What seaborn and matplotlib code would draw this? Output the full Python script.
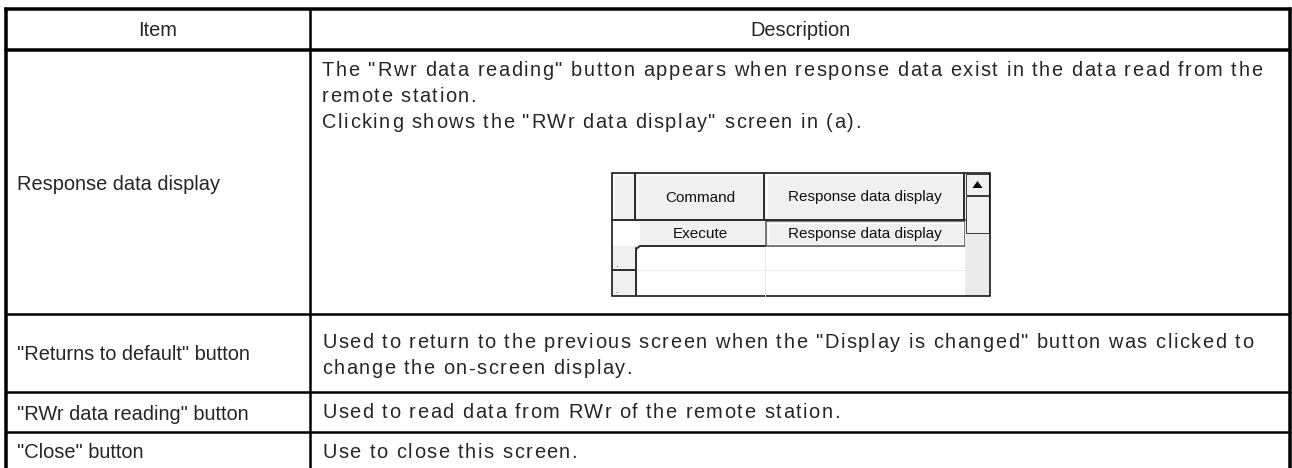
import numpy as np
import pandas as pd
import seaborn as sns
import matplotlib.pyplot as plt
from matplotlib.patches import Rectangle, Polygon

# Table content
header = ["Item", "Description"]
items = [
    'Response data display',
    '"Returns to default" button',
    '"RWr data reading" button',
    '"Close" button',
]
descriptions = [
    ['The "Rwr data reading" button appears when response data exist in the data read from the',
     'remote station.',
     'Clicking shows the "RWr data display" screen in (a).'],
    ['Used to return to the previous screen when the "Display is changed" button was clicked to',
     'change the on-screen display.'],
    ['Used to read data from RWr of the remote station.'],
    ['Use to close this screen.'],
]

# Small screenshot in the first row
grid_header = ['Command', 'Response data display']
grid_row = ['Execute', 'Response data display']

# Layout (pixels)
W, H = 1292, 468
LEFT, RIGHT, TOP = 6, 1290, 9
COL_X = 310
ROW_Y = [50, 314, 392, 432, H]
TEXT_X = [17, 322]
# description text sits on a character grid: extra space after each character
CHAR_PITCH_EXTRA = 1.55
# wrapped lines are spread out to these right edges
SPREAD_RIGHT = {(0, 0): 1262, (1, 0): 1253}
LINE_STEP = 26
FS = 14.4
GRID_FS = 11


def px(v):
    return v * 72 / 100


def measure(ax, renderer, s, **kw):
    t = ax.text(0, 0, s, **kw)
    w = t.get_window_extent(renderer).width
    t.remove()
    return w


def draw_line(ax, renderer, x0, y, s, right=None, extra=0.0, **kw):
    prefix = [0.0] + [measure(ax, renderer, s[:k].replace(' ', '\u00a0'), **kw)
                      for k in range(1, len(s) + 1)]
    delta = extra if right is None else (right - x0 - prefix[-1]) / (len(s) - 1)
    for k, ch in enumerate(s):
        if ch == ' ':
            continue
        ax.text(x0 + prefix[k] + k * delta, y, ch, ha='left', va='center', **kw)


def draw_grid_widget(ax):
    gx0, gx1, gy0, gy1 = 612, 990, 173, 296
    rh_x, split_x, sb_x = 636, 765, 965
    hdr_y, r1_y, r2_y = 220, 246, 270
    gray = '#f0f0f0'
    dark = '#303030'

    ax.add_patch(Rectangle((gx0, gy0), gx1 - gx0, gy1 - gy0, fc='white', ec='none'))
    # header cells
    ax.add_patch(Rectangle((gx0, gy0), sb_x - gx0, hdr_y - gy0, fc=gray, ec='none'))
    # row header cells
    ax.add_patch(Rectangle((gx0, r1_y), rh_x - gx0, gy1 - r1_y, fc=gray, ec='none'))
    # execute cell
    ax.add_patch(Rectangle((rh_x + 4, hdr_y + 1), split_x - rh_x - 4, r1_y - hdr_y - 1, fc=gray, ec='none'))
    # response button
    ax.add_patch(Rectangle((split_x + 1, hdr_y + 1), sb_x - split_x - 1, r1_y - hdr_y - 1,
                           fc=gray, ec='#505050', lw=px(1.5)))
    ax.add_patch(Rectangle((split_x + 3, hdr_y + 3), sb_x - split_x - 5, r1_y - hdr_y - 5,
                           fc='none', ec='#ffffff', lw=px(1)))

    # faint grid lines
    ax.plot([split_x, split_x], [r1_y, gy1], color='#e6e6e6', lw=px(1))
    ax.plot([rh_x, sb_x], [r2_y, r2_y], color='#ececec', lw=px(1))

    # header 3d edges
    for xa, xb in [(gx0, rh_x), (rh_x, split_x), (split_x, sb_x)]:
        ax.plot([xa + 2, xb - 2], [gy0 + 2, gy0 + 2], color='white', lw=px(1.5))
        ax.plot([xa + 2, xa + 2], [gy0 + 2, hdr_y - 2], color='white', lw=px(1.5))
        ax.plot([xb - 1, xb - 1], [gy0, hdr_y], color=dark, lw=px(2))
    ax.plot([gx0, sb_x], [hdr_y, hdr_y], color=dark, lw=px(2))
    ax.plot([rh_x + 4, split_x], [r1_y, r1_y], color=dark, lw=px(2))
    ax.plot([rh_x, rh_x], [r1_y + 2, gy1], color=dark, lw=px(2))
    ax.plot([gx0, rh_x], [r2_y, r2_y], color=dark, lw=px(2))
    ax.plot([rh_x, rh_x + 4], [r1_y + 3, r1_y], color=dark, lw=px(2))

    # scrollbar
    ax.add_patch(Rectangle((sb_x, gy0), gx1 - sb_x, gy1 - gy0, fc='#ebebeb', ec='none'))
    ax.add_patch(Rectangle((sb_x + 1, gy0 + 1), gx1 - sb_x - 2, 21, fc=gray, ec='#404040', lw=px(1)))
    ax.add_patch(Rectangle((sb_x + 1, gy0 + 23), gx1 - sb_x - 2, 37, fc=gray, ec='#404040', lw=px(1)))
    cx = (sb_x + gx1) / 2
    ax.add_patch(Polygon([[cx - 5, gy0 + 15], [cx + 5, gy0 + 15], [cx, gy0 + 8]], closed=True,
                         fc='black', ec='none'))

    # outer border
    ax.add_patch(Rectangle((gx0, gy0), gx1 - gx0, gy1 - gy0, fc='none', ec='black', lw=px(1.5)))

    # texts
    kw = dict(fontsize=GRID_FS, color='#111111', ha='center', va='center')
    ax.text((rh_x + split_x) / 2, (gy0 + hdr_y) / 2 + 1, grid_header[0], **kw)
    ax.text((split_x + sb_x) / 2, (gy0 + hdr_y) / 2 + 1, grid_header[1], **kw)
    ax.text((rh_x + split_x) / 2, (hdr_y + r1_y) / 2 + 1, grid_row[0], **kw)
    ax.text((split_x + sb_x) / 2, (hdr_y + r1_y) / 2 + 1, grid_row[1], **kw)
    for yy in [r2_y - 6, gy1 - 6]:
        ax.text(gx0 + 3, yy, '.', fontsize=7, ha='left', va='center', color='black')


sns.set_theme(style="white")
plt.rcParams['font.family'] = ['Liberation Sans', 'DejaVu Sans']

fig = plt.figure(figsize=(W / 100, H / 100), dpi=100)
ax = fig.add_axes([0, 0, 1, 1])
ax.set_xlim(0, W)
ax.set_ylim(H, 0)
ax.axis('off')
renderer = fig.canvas.get_renderer()

# table lines
ax.plot([LEFT, RIGHT], [TOP, TOP], color='black', lw=px(3.5), solid_capstyle='projecting')
ax.plot([LEFT, LEFT], [TOP, H + 2], color='black', lw=px(3.5))
ax.plot([RIGHT, RIGHT], [TOP, H + 2], color='black', lw=px(3.5))
ax.plot([COL_X, COL_X], [TOP, H + 2], color='black', lw=px(2.5))
ax.plot([LEFT, RIGHT], [ROW_Y[0], ROW_Y[0]], color='black', lw=px(3.5))
for y in ROW_Y[1:-1]:
    ax.plot([LEFT, RIGHT], [y, y], color='black', lw=px(2.5))

# header
ax.text((LEFT + COL_X) / 2, (TOP + ROW_Y[0]) / 2 + 1, header[0], ha='center', va='center', fontsize=FS)
ax.text((COL_X + RIGHT) / 2, (TOP + ROW_Y[0]) / 2 + 1, header[1], ha='center', va='center', fontsize=FS)

# rows
desc_first = [70, 343, 413, 453]
for i, (item, lines) in enumerate(zip(items, descriptions)):
    y0, y1 = ROW_Y[i], ROW_Y[i + 1]
    ymid = (y0 + y1) / 2 + 2 if i < 3 else desc_first[i]
    ax.text(TEXT_X[0], ymid, item, ha='left', va='center', fontsize=FS)
    for j, line in enumerate(lines):
        right = SPREAD_RIGHT.get((i, j))
        draw_line(ax, renderer, TEXT_X[1], desc_first[i] + j * LINE_STEP, line,
                  right=right, extra=CHAR_PITCH_EXTRA, fontsize=FS)

draw_grid_widget(ax)

fig.savefig('out.png', dpi=100)
